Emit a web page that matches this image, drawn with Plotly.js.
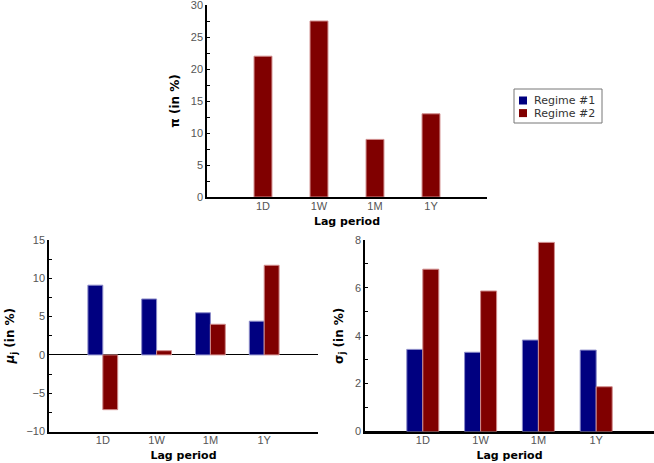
<!DOCTYPE html>
<html>
<head>
<meta charset="utf-8">
<script src="https://cdn.plot.ly/plotly-3.0.1.min.js"></script>
<style>html,body{margin:0;padding:0;background:#fff;}#chart{width:654px;height:463px;}</style>
</head>
<body>
<div id="chart"></div>
<script>
// ---- data ----
const lagPeriods = ['1D', '1W', '1M', '1Y'];
const piRegime2 = [22.0, 27.5, 9.0, 13.0];
const muRegime1 = [9.1, 7.3, 5.5, 4.4];
const muRegime2 = [-7.15, 0.55, 4.0, 11.7];
const sigmaRegime1 = [3.43, 3.31, 3.82, 3.40];
const sigmaRegime2 = [6.78, 5.87, 7.9, 1.87];
const seriesNames = ['Regime #1', 'Regime #2'];

// ---- styling ----
const BLUE = '#000080', RED = '#800000';
const BLUE_EDGE = '#8a8ac8', RED_EDGE = '#d08c8c';
const seriesColors = [BLUE, RED];
const tickFont = {family: 'Liberation Sans, Arial, sans-serif', size: 11, color: '#555555'};
const titleFont = {family: 'DejaVu Sans, sans-serif', size: 11, color: '#000000', weight: 'bold'};
const yTitleFont = {family: 'DejaVu Sans, sans-serif', size: 12, color: '#000000', weight: 'bold'};

function bar(x, y, name, color, edge, xa, ya, extra) {
  return Object.assign({
    type: 'bar', x: x, y: y, name: name, xaxis: xa, yaxis: ya,
    showlegend: false,
    marker: {color: color, line: {color: edge, width: 1}},
    hoverinfo: 'x+y+name'
  }, extra || {});
}

const data = [
  bar(lagPeriods, piRegime2, seriesNames[1], RED, RED_EDGE, 'x', 'y', {width: 0.32}),
  bar(lagPeriods, muRegime1, seriesNames[0], BLUE, BLUE_EDGE, 'x2', 'y2'),
  bar(lagPeriods, muRegime2, seriesNames[1], RED, RED_EDGE, 'x2', 'y2'),
  bar(lagPeriods, sigmaRegime1, seriesNames[0], BLUE, BLUE_EDGE, 'x3', 'y3'),
  bar(lagPeriods, sigmaRegime2, seriesNames[1], RED, RED_EDGE, 'x3', 'y3')
];

function xaxis(domain, anchor) {
  return {
    domain: domain, anchor: anchor, type: 'category', range: [-1, 4],
    showline: true, linecolor: '#000', linewidth: 1.5, mirror: false,
    ticks: '', showgrid: false, zeroline: false,
    tickfont: tickFont, ticklabelstandoff: -2,
    title: {text: 'Lag period', font: titleFont, standoff: 6},
    fixedrange: true
  };
}
function yaxis(domain, anchor, range, dtick, minorDtick, title) {
  return {
    domain: domain, anchor: anchor, range: range, dtick: dtick, tick0: 0,
    showline: true, linecolor: '#000', linewidth: 1.5,
    ticks: 'inside', ticklen: 3, tickwidth: 1, tickcolor: '#000',
    minor: {dtick: minorDtick, ticks: 'inside', ticklen: 3, tickwidth: 1, tickcolor: '#000', showgrid: false},
    showgrid: false, zeroline: true, zerolinecolor: '#000', zerolinewidth: 1,
    tickfont: tickFont, ticklabeloverflow: 'allow',
    title: {text: title, font: yTitleFont, standoff: 9},
    fixedrange: true
  };
}

const W = 654, H = 463;
const px = v => v / W, py = v => 1 - v / H;
const topX = [px(207), px(487)], topY = [py(197), py(5)];
const blX = [px(49), px(318)], brX = [px(365), 1], botY = [py(431.5), py(240)];

// legend drawn as a framed key (box, colour squares, names)
const legendBox = {x0: 514, y0: 89, x1: 602, y1: 123};
const shapes = [{
  type: 'rect', xref: 'paper', yref: 'paper',
  x0: px(legendBox.x0), x1: px(legendBox.x1), y0: py(legendBox.y1), y1: py(legendBox.y0),
  line: {color: '#777', width: 1}, fillcolor: '#fff', layer: 'above'
}];
const annotations = [];
seriesNames.forEach((name, i) => {
  const cy = 100.5 + i * 12.6;
  shapes.push({
    type: 'rect', xref: 'paper', yref: 'paper',
    x0: px(519), x1: px(527), y0: py(cy + 4), y1: py(cy - 4),
    line: {width: 0}, fillcolor: seriesColors[i], layer: 'above'
  });
  annotations.push({
    xref: 'paper', yref: 'paper', x: px(532), y: py(cy),
    xanchor: 'left', yanchor: 'middle', showarrow: false, text: name,
    font: {family: 'DejaVu Sans, sans-serif', size: 11, color: '#333'}
  });
});

const layout = {
  width: W, height: H,
  margin: {l: 0, r: 0, t: 0, b: 0},
  paper_bgcolor: '#fff', plot_bgcolor: '#fff',
  barmode: 'group', bargap: 0.446, bargroupgap: 0,
  xaxis: xaxis(topX, 'y'),
  yaxis: yaxis(topY, 'x', [0, 30], 5, 2.5, 'π (in %)'),
  xaxis2: xaxis(blX, 'y2'),
  yaxis2: yaxis(botY, 'x2', [-10, 15], 5, 2.5, '<i>μ</i><sub>j</sub> (in %)'),
  xaxis3: xaxis(brX, 'y3'),
  yaxis3: yaxis(botY, 'x3', [0, 8], 2, 1, 'σ<sub>j</sub> (in %)'),
  showlegend: false,
  shapes: shapes,
  annotations: annotations,
  font: {family: 'Liberation Sans, Arial, sans-serif', color: '#555555'}
};

Plotly.newPlot('chart', data, layout, {displayModeBar: false});
</script>
</body>
</html>
